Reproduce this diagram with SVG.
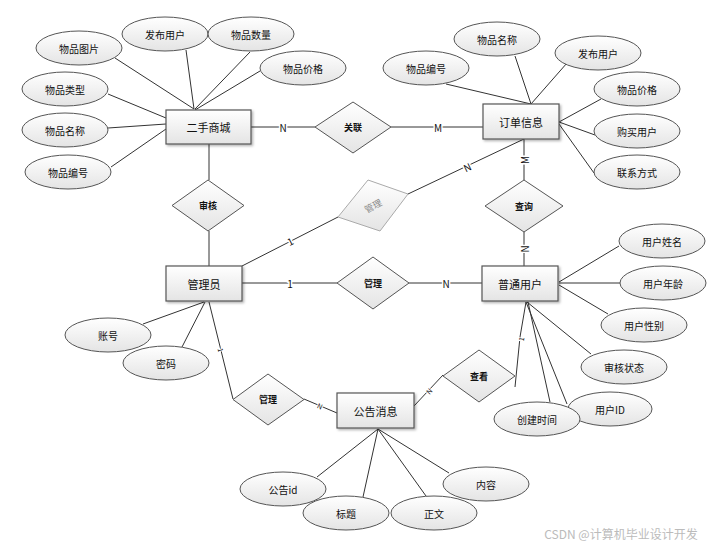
<svg xmlns="http://www.w3.org/2000/svg" width="717" height="546" viewBox="0 0 717 546">
<defs>
<linearGradient id="g" x1="0" y1="0" x2="0" y2="1">
<stop offset="0" stop-color="#ffffff"/>
<stop offset="1" stop-color="#e4e4e4"/>
</linearGradient>
<filter id="sh" x="-10%" y="-10%" width="130%" height="140%">
<feDropShadow dx="1.5" dy="1.5" stdDeviation="1" flood-color="#000" flood-opacity="0.3"/>
</filter>
</defs>
<style>
text{font-family:"Noto Sans CJK SC","Liberation Sans",sans-serif;text-anchor:middle;dominant-baseline:central;fill:#111}
.ent rect{fill:url(#g);stroke:#555;stroke-width:1.2;filter:url(#sh)}
.ent text{font-size:11px}
.att ellipse{fill:url(#g);stroke:#555;stroke-width:1}
.att text{font-size:10px}
.rel polygon{fill:url(#g);stroke:#555;stroke-width:1}
.rel text{font-size:9px;font-weight:bold}
.con line,.con polyline{stroke:#333;stroke-width:1;fill:none}
.lbl{font-size:10px;paint-order:stroke;stroke:#fff;stroke-width:3px}
.sm{font-size:7px;paint-order:stroke;stroke:#fff;stroke-width:2px}
</style>
<rect width="717" height="546" fill="#fff"/>

<g id="connectors" class="con">
<!-- 二手商城 attrs -->
<line x1="115" y1="58" x2="194" y2="109"/>
<line x1="186" y1="50" x2="194" y2="109"/>
<line x1="250" y1="52" x2="195" y2="109"/>
<line x1="260" y1="71" x2="195" y2="110"/>
<line x1="108" y1="94" x2="166" y2="118"/>
<line x1="108" y1="128" x2="166" y2="124"/>
<line x1="111" y1="167" x2="166" y2="129"/>
<!-- 订单信息 attrs -->
<line x1="515" y1="56" x2="531" y2="104"/>
<line x1="446" y1="84" x2="531" y2="104"/>
<line x1="567" y1="63" x2="531" y2="104"/>
<line x1="601" y1="99" x2="559" y2="122"/>
<line x1="595" y1="135" x2="559" y2="122"/>
<line x1="594" y1="173" x2="559" y2="124"/>
<!-- 管理员 attrs -->
<line x1="143" y1="324" x2="204" y2="302"/>
<line x1="182" y1="347" x2="205" y2="302"/>
<!-- 普通用户 attrs -->
<line x1="619" y1="246" x2="559" y2="282"/>
<line x1="620" y1="283" x2="559" y2="283"/>
<line x1="608" y1="314" x2="559" y2="285"/>
<line x1="591" y1="354" x2="527" y2="302"/>
<line x1="567" y1="404" x2="526" y2="302"/>
<line x1="550" y1="402" x2="528" y2="302"/>
<!-- 公告消息 attrs -->
<line x1="378" y1="429" x2="317" y2="477"/>
<line x1="378" y1="429" x2="363" y2="497"/>
<line x1="378" y1="429" x2="426" y2="496"/>
<line x1="378" y1="429" x2="449" y2="473"/>
<!-- relationships -->
<line x1="251" y1="127" x2="315" y2="127"/>
<line x1="391" y1="127" x2="483" y2="127"/>
<line x1="209" y1="144" x2="209" y2="180"/>
<line x1="209" y1="231" x2="209" y2="266"/>
<line x1="242" y1="266" x2="338" y2="217"/>
<line x1="408" y1="194" x2="524" y2="139"/>
<line x1="524" y1="139" x2="524" y2="180"/>
<line x1="524" y1="232" x2="524" y2="266"/>
<line x1="242" y1="283" x2="337" y2="283"/>
<line x1="409" y1="283" x2="482" y2="283"/>
<line x1="209" y1="302" x2="233" y2="399"/>
<line x1="304" y1="399" x2="337" y2="413"/>
<line x1="414" y1="406" x2="443" y2="375"/>
<polyline points="515,387 520,337 526,302"/>
<!-- labels -->
<text class="lbl" x="283" y="127">N</text>
<text class="lbl" x="438" y="127" fill="#332200">M</text>
<text class="lbl" transform="translate(290,241) rotate(-27)">1</text>
<text class="lbl" transform="translate(467,167) rotate(-25)">N</text>
<text class="lbl" transform="translate(524,160) rotate(-90)">M</text>
<text class="lbl" transform="translate(524,249) rotate(-90)">N</text>
<text class="lbl" x="290" y="283">1</text>
<text class="lbl" x="446" y="283">N</text>
<text class="sm" transform="translate(221,350) rotate(76)">1</text>
<text class="sm" transform="translate(320,406) rotate(23)">N</text>
<text class="sm" transform="translate(429,391) rotate(-47)">N</text>
<text class="sm" transform="translate(521,339) rotate(-81)">1</text>
</g>

<!-- entities -->
<g id="ershou" class="ent"><rect x="166" y="110" width="85" height="34"/><text x="208.5" y="127">二手商城</text></g>
<g id="dingdan" class="ent"><rect x="483" y="104" width="76" height="35"/><text x="521" y="121.5">订单信息</text></g>
<g id="guanliyuan" class="ent"><rect x="166" y="266" width="76" height="35"/><text x="204" y="283.5">管理员</text></g>
<g id="putong" class="ent"><rect x="482" y="266" width="76" height="35"/><text x="520" y="283.5">普通用户</text></g>
<g id="gonggao" class="ent"><rect x="337" y="393" width="77" height="35"/><text x="375.5" y="410.5">公告消息</text></g>

<!-- relationships -->
<g id="guanlian" class="rel"><polygon points="353,102 391,127 353,153 315,127"/><text x="353" y="127">关联</text></g>
<g id="shenhe" class="rel"><polygon points="208,180 244,205.5 208,231 172,205.5"/><text x="208" y="205.5">审核</text></g>
<g id="guanli1" class="rel"><polygon points="368,180 408,194 380,231 338,217" style="stroke:#aaa"/><text transform="translate(373,206) rotate(-28)" style="fill:#888;font-weight:normal">管理</text></g>
<g id="chaxun" class="rel"><polygon points="524,180 563,206 524,232 485,206"/><text x="524" y="206">查询</text></g>
<g id="guanli2" class="rel"><polygon points="373,257 409,283 373,309 337,283"/><text x="373" y="283">管理</text></g>
<g id="chakan" class="rel"><polygon points="479,350 515,376 479,402 443,376"/><text x="479" y="376">查看</text></g>
<g id="guanli3" class="rel"><polygon points="268,374 304,399.5 268,425 233,399.5"/><text x="268" y="399.5">管理</text></g>

<!-- attributes -->
<g id="a1" class="att"><ellipse cx="79" cy="48" rx="43" ry="17"/><text x="79" y="48">物品图片</text></g>
<g id="a2" class="att"><ellipse cx="165" cy="34" rx="43" ry="17"/><text x="165" y="34">发布用户</text></g>
<g id="a3" class="att"><ellipse cx="251" cy="34" rx="43" ry="17"/><text x="251" y="34">物品数量</text></g>
<g id="a4" class="att"><ellipse cx="303" cy="68" rx="43" ry="17"/><text x="303" y="68">物品价格</text></g>
<g id="a5" class="att"><ellipse cx="65" cy="89" rx="43" ry="17"/><text x="65" y="89">物品类型</text></g>
<g id="a6" class="att"><ellipse cx="65" cy="130" rx="43" ry="17"/><text x="65" y="130">物品名称</text></g>
<g id="a7" class="att"><ellipse cx="68" cy="172" rx="43" ry="17"/><text x="68" y="172">物品编号</text></g>

<g id="b1" class="att"><ellipse cx="497" cy="39" rx="43" ry="17"/><text x="497" y="39">物品名称</text></g>
<g id="b2" class="att"><ellipse cx="426" cy="68" rx="43" ry="17"/><text x="426" y="68">物品编号</text></g>
<g id="b3" class="att"><ellipse cx="598" cy="53" rx="43" ry="17"/><text x="598" y="53">发布用户</text></g>
<g id="b4" class="att"><ellipse cx="637" cy="89" rx="43" ry="17"/><text x="637" y="89">物品价格</text></g>
<g id="b5" class="att"><ellipse cx="637" cy="131" rx="43" ry="17"/><text x="637" y="131">购买用户</text></g>
<g id="b6" class="att"><ellipse cx="637" cy="172" rx="43" ry="17"/><text x="637" y="172">联系方式</text></g>

<g id="c1" class="att"><ellipse cx="108" cy="335" rx="43" ry="17"/><text x="108" y="335">账号</text></g>
<g id="c2" class="att"><ellipse cx="166" cy="363" rx="43" ry="17"/><text x="166" y="363">密码</text></g>

<g id="d1" class="att"><ellipse cx="662" cy="241" rx="43" ry="17"/><text x="662" y="241">用户姓名</text></g>
<g id="d2" class="att"><ellipse cx="663" cy="283" rx="43" ry="17"/><text x="663" y="283">用户年龄</text></g>
<g id="d3" class="att"><ellipse cx="644" cy="325" rx="43" ry="17"/><text x="644" y="325">用户性别</text></g>
<g id="d4" class="att"><ellipse cx="624" cy="367" rx="43" ry="17"/><text x="624" y="367">审核状态</text></g>
<g id="d5" class="att"><ellipse cx="610" cy="409" rx="42" ry="17"/><text x="610" y="409">用户ID</text></g>
<g id="d6" class="att"><ellipse cx="537" cy="419" rx="43" ry="17"/><text x="537" y="419">创建时间</text></g>

<g id="e1" class="att"><ellipse cx="283" cy="489" rx="43" ry="17"/><text x="283" y="489">公告id</text></g>
<g id="e2" class="att"><ellipse cx="346" cy="513" rx="43" ry="17"/><text x="346" y="513">标题</text></g>
<g id="e3" class="att"><ellipse cx="434" cy="513" rx="43" ry="17"/><text x="434" y="513">正文</text></g>
<g id="e4" class="att"><ellipse cx="486" cy="484" rx="43" ry="17"/><text x="486" y="484">内容</text></g>

<text x="621" y="533" style="font-size:12px;fill:#bbb">CSDN @计算机毕业设计开发</text>
</svg>
